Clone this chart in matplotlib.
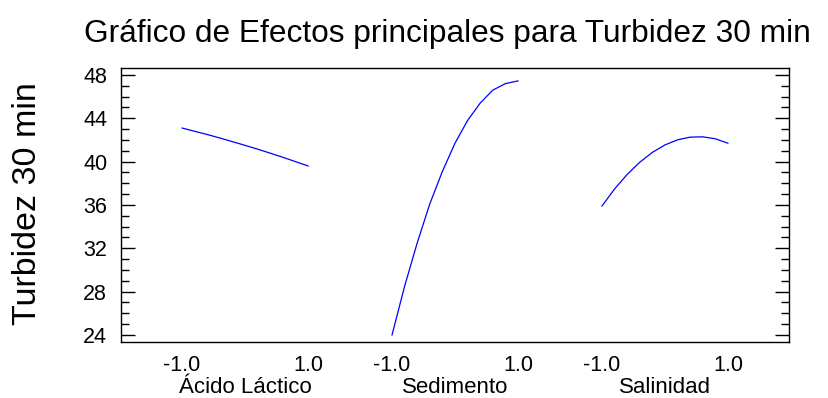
import matplotlib
matplotlib.use('Agg')
import matplotlib.pyplot as plt
from matplotlib.ticker import MultipleLocator, FixedLocator
from matplotlib.transforms import blended_transform_factory

plt.rcParams['font.family'] = ['Liberation Sans', 'DejaVu Sans']

# factor levels (coded) and fitted response
levels = [-1.0, -0.8, -0.6, -0.4, -0.2, 0.0, 0.2, 0.4, 0.6, 0.8, 1.0]
factors = ['Ácido Láctico', 'Sedimento', 'Salinidad']
acido = [43.1, 42.8, 42.5, 42.18, 41.84, 41.5, 41.15, 40.78, 40.4, 40.0, 39.6]
sedimento = [24.0, 28.5, 32.5, 36.1, 39.1, 41.7, 43.8, 45.4, 46.6, 47.2, 47.45]
salinidad = [35.9, 37.47, 38.81, 39.94, 40.85, 41.54, 42.01, 42.26, 42.29, 42.11, 41.7]
series = [acido, sedimento, salinidad]
tick_text = ['-1.0', '1.0']
yticks = [24, 28, 32, 36, 40, 44, 48]

spacing = 10.0 / 3  # distance between factor centres

fig = plt.figure(figsize=(8.29, 3.98), dpi=100)
ax = fig.add_axes([0.146, 0.1407, 0.8057, 0.6892])

xt, xl = [], []
for i, (name, vals) in enumerate(zip(factors, series)):
    off = i * spacing
    ax.plot([off + v for v in levels], vals, color='#0000ff', lw=0.9)
    xt += [off - 1, off + 1]
    xl += tick_text
    ax.text(off, -0.185, name, transform=blended_transform_factory(ax.transData, ax.transAxes),
            ha='center', va='baseline', fontsize=16)

ax.set_xlim(-1.97, 2 * spacing + 1.97)
ax.set_ylim(23.35, 48.67)
ax.xaxis.set_major_locator(FixedLocator(xt))
ax.set_xticklabels(xl, fontsize=15.5)
ax.tick_params(axis='x', length=0, pad=9)

ax.yaxis.set_major_locator(FixedLocator(yticks))
ax.yaxis.set_minor_locator(MultipleLocator(1))
ax.tick_params(axis='y', which='both', direction='in', left=True, right=True, labelsize=15.5, pad=10, width=1)
ax.tick_params(axis='y', which='major', length=10)
ax.tick_params(axis='y', which='minor', length=5.5)

for s in ax.spines.values():
    s.set_linewidth(1)

fig.text(447.5 / 829, 1 - 42 / 398, 'Gráfico de Efectos principales para Turbidez 30 min',
         ha='center', va='baseline', fontsize=22.8)
fig.text(28 / 829, 1 - 204 / 398, 'Turbidez 30 min', rotation=90, ha='center', va='center', fontsize=24.5)

fig.savefig('out.png', dpi=100)
